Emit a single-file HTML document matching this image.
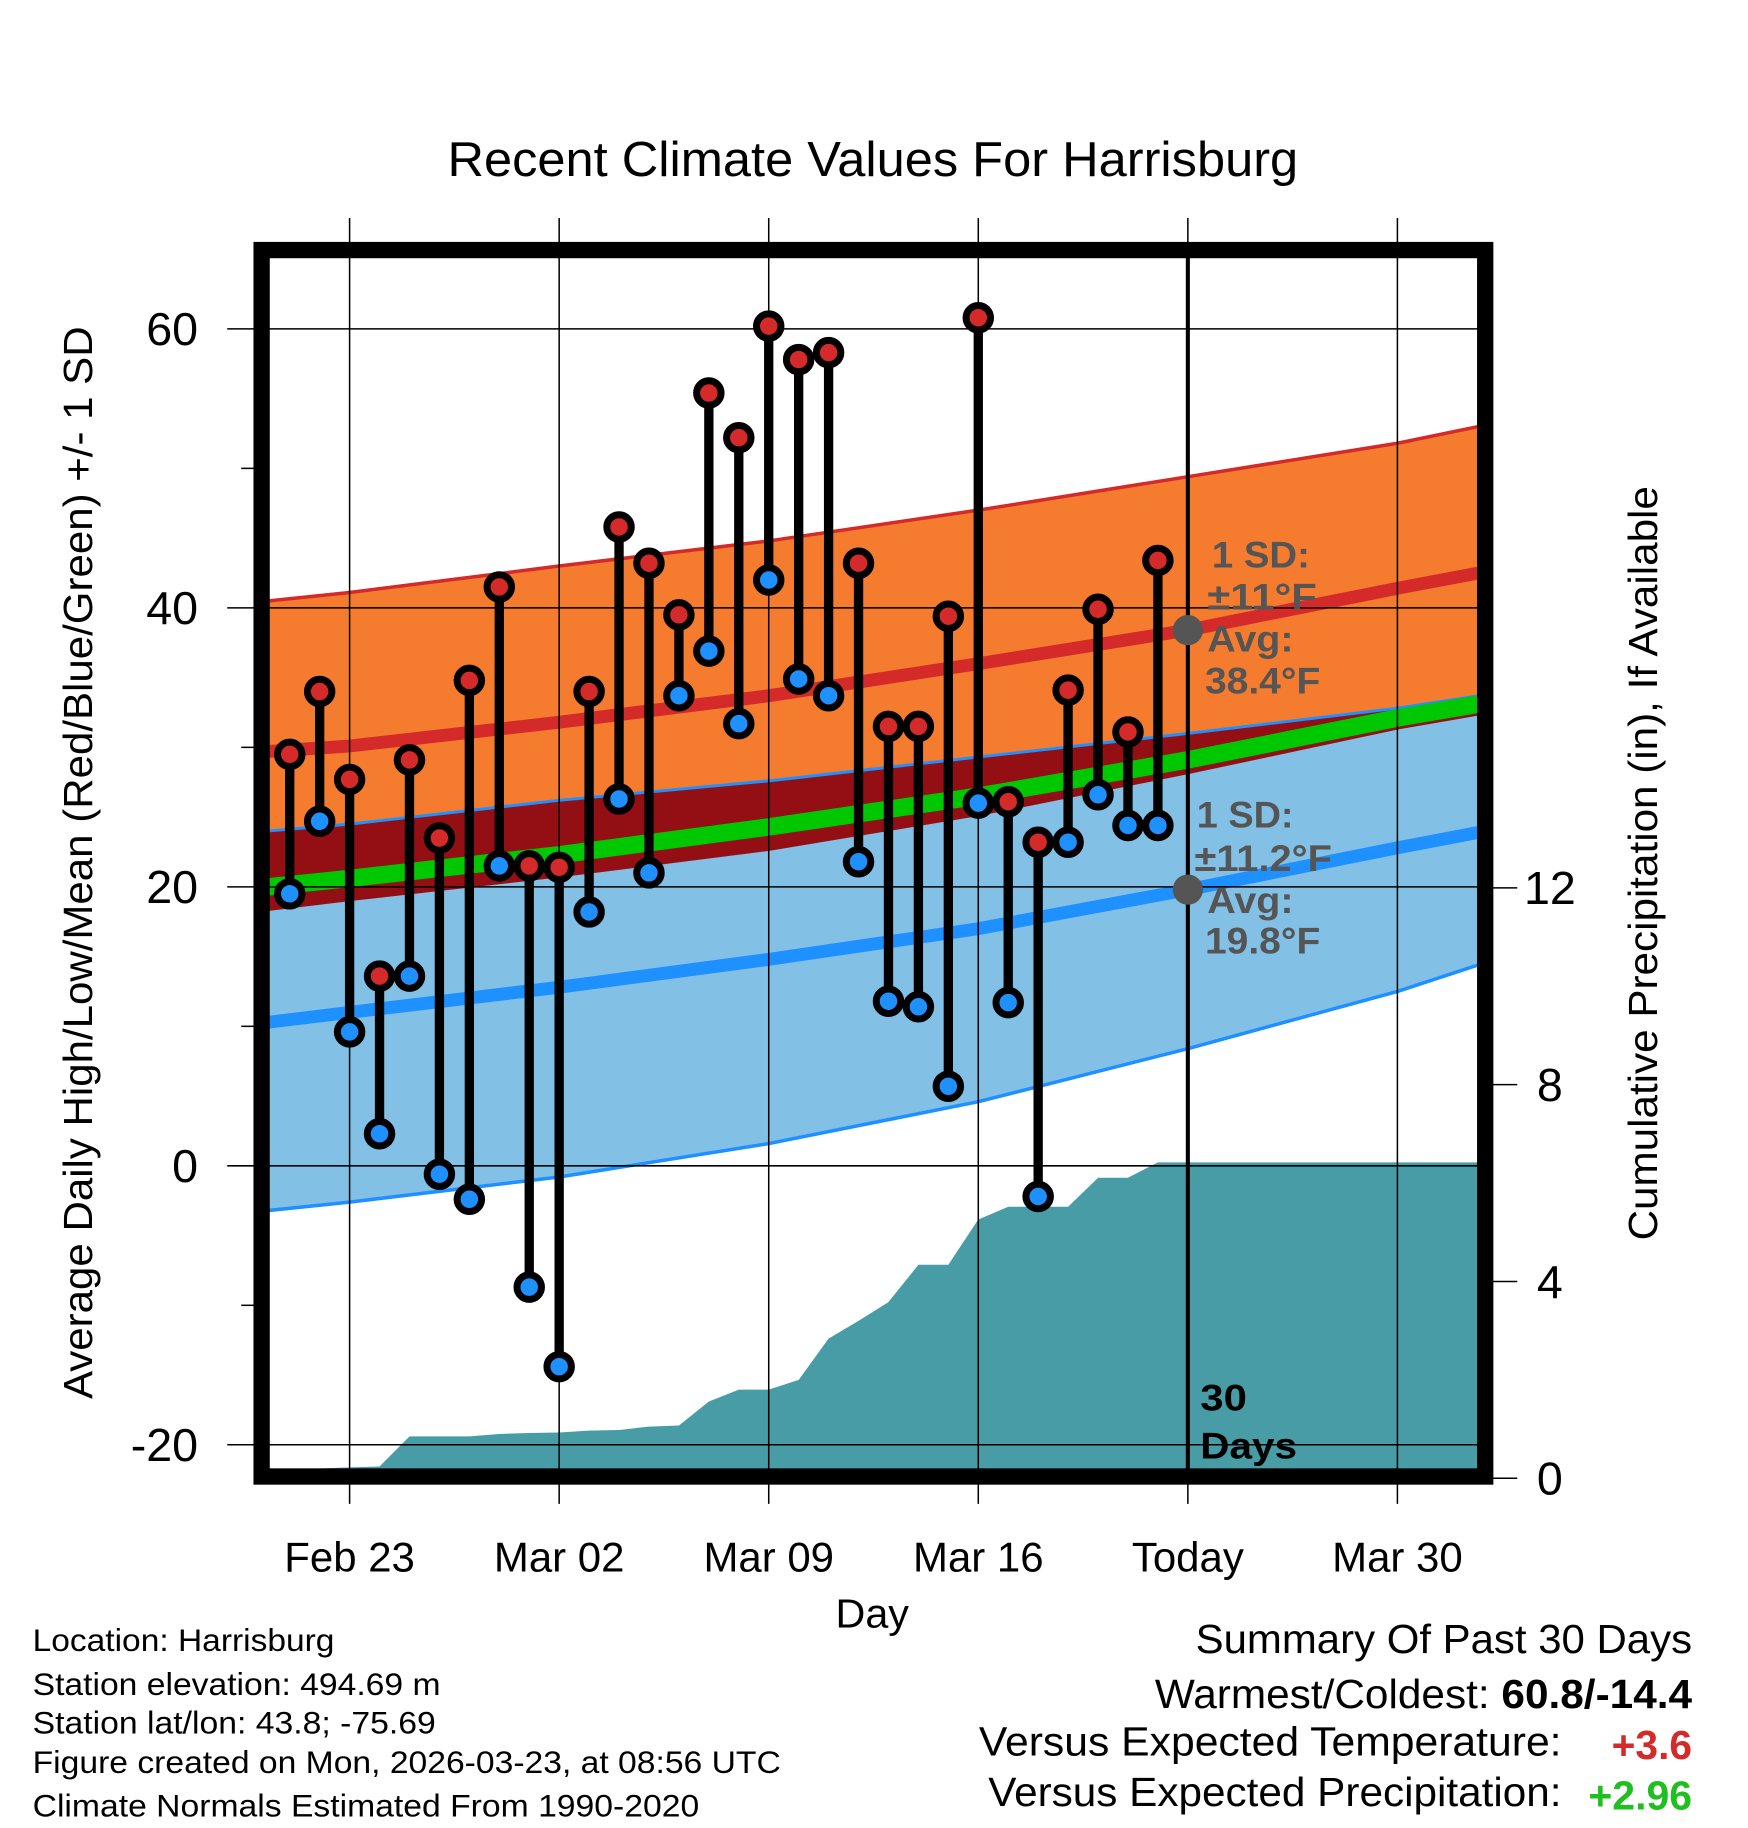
<!DOCTYPE html>
<html><head><meta charset="utf-8"><style>
html,body{margin:0;padding:0;background:#fff;}
svg{display:block;font-family:"Liberation Sans",sans-serif;}
</style></head><body>
<svg id="chart" width="1748" height="1828" viewBox="0 0 1500 1568" preserveAspectRatio="none" xmlns="http://www.w3.org/2000/svg">
<rect width="1500" height="1568" fill="#fff"/>
<text x="384" y="151" font-size="42" textLength="730" lengthAdjust="spacingAndGlyphs">Recent Climate Values For Harrisburg</text>
<defs><clipPath id="plotclip"><rect x="231" y="221" width="1037" height="1039"/></clipPath></defs>
<g id="bands" clip-path="url(#plotclip)"></g>
<g id="grid"></g>
<g id="marks" clip-path="url(#plotclip)"></g>
<g id="frame"></g>
<g id="axes"></g>
<g id="annot"></g>
<g font-size="27" lengthAdjust="spacingAndGlyphs">
<text x="28" y="1416" textLength="259" lengthAdjust="spacingAndGlyphs">Location: Harrisburg</text>
<text x="28" y="1454" textLength="350" lengthAdjust="spacingAndGlyphs">Station elevation: 494.69 m</text>
<text x="28" y="1487" textLength="346" lengthAdjust="spacingAndGlyphs">Station lat/lon: 43.8; -75.69</text>
<text x="28" y="1521" textLength="642" lengthAdjust="spacingAndGlyphs">Figure created on Mon, 2026-03-23, at 08:56 UTC</text>
<text x="28" y="1558" textLength="572" lengthAdjust="spacingAndGlyphs">Climate Normals Estimated From 1990-2020</text>
</g>
<g font-size="35">
<text x="1026" y="1418" textLength="426" lengthAdjust="spacingAndGlyphs">Summary Of Past 30 Days</text>
<text x="991" y="1465" textLength="461" lengthAdjust="spacingAndGlyphs">Warmest/Coldest: <tspan font-weight="bold">60.8/-14.4</tspan></text>
<text x="840" y="1506" textLength="500" lengthAdjust="spacingAndGlyphs">Versus Expected Temperature:</text>
<text x="1383" y="1509" textLength="69" lengthAdjust="spacingAndGlyphs" fill="#d42a2a" font-weight="bold">+3.6</text>
<text x="848" y="1549" textLength="492" lengthAdjust="spacingAndGlyphs">Versus Expected Precipitation:</text>
<text x="1363" y="1552" textLength="89" lengthAdjust="spacingAndGlyphs" fill="#1fbf1f" font-weight="bold">+2.96</text>
</g>
</svg>
<script>
const days = ["Feb21","Feb22","Feb23","Feb24","Feb25","Feb26","Feb27","Feb28","Mar01","Mar02","Mar03","Mar04","Mar05","Mar06","Mar07","Mar08","Mar09","Mar10","Mar11","Mar12","Mar13","Mar14","Mar15","Mar16","Mar17","Mar18","Mar19","Mar20","Mar21","Mar22"];
const highs = [29.5,34,27.7,13.6,29.1,23.5,34.8,41.5,21.5,21.4,34,45.8,43.2,39.5,55.4,52.2,60.2,57.8,58.3,43.2,31.5,31.5,39.4,60.8,26.1,23.2,34.1,39.9,31.1,43.4];
const lows = [19.5,24.7,9.6,2.3,13.6,-0.6,-2.4,21.5,-8.7,-14.4,18.2,26.3,21,33.7,36.9,31.7,42,34.9,33.7,21.8,11.8,11.4,5.7,26,11.7,-2.2,23.2,26.6,24.4,24.4];
const precip = [0,0.2,0.22,0.24,0.85,0.85,0.85,0.9,0.92,0.93,0.97,0.98,1.05,1.07,1.56,1.8,1.8,2.0,2.84,3.2,3.58,4.34,4.34,5.26,5.52,5.52,5.52,6.11,6.11,6.42];
// normals sampled at day offsets (0 = Feb 23)
const normDays = [-2.7,0,7,14,21,28,35,37.7];
const highTop = [40.5,41.1,43,44.8,47,49.4,51.8,53];
const highMean = [29.7,30.1,31.8,33.7,36,38.4,41.4,42.5];
const highBot = [18.4,19.1,20.8,22.7,25.2,28.2,31.4,32.4];
const lowTop = [24.0,24.5,26.2,27.6,29.3,31,32.8,33.7];
const lowMean = [10.3,11,12.8,14.8,17,19.8,22.8,23.9];
const lowBot = [-3.2,-2.6,-0.8,1.6,4.6,8.4,12.5,14.4];
const avgMean = [20,20.6,22.3,24.3,26.5,29.1,32.1,33.1];
const yTicks = [60,40,20,0,-20];
const yMinor = [50,30,10,-10];
const pTicks = [0,4,8,12];
const xTickLabels = ["Feb 23","Mar 02","Mar 09","Mar 16","Today","Mar 30"];
const xTickDays = [0,7,14,21,28,35];

const NS="http://www.w3.org/2000/svg";
const X = d => 300 + d*25.69;
const Y = v => 1000 - v*11.965;
const P = p => 1268 - p*42.2;
function mk(tag, attrs, parent){const e=document.createElementNS(NS,tag);for(const k in attrs)e.setAttribute(k,attrs[k]);parent.appendChild(e);return e;}
const bands=document.getElementById('bands'), grid=document.getElementById('grid'), marks=document.getElementById('marks'), frame=document.getElementById('frame'), axes=document.getElementById('axes'), annot=document.getElementById('annot');
const line = arr => normDays.map((d,i)=>X(d).toFixed(1)+','+Y(arr[i]).toFixed(1));
function band(top,bot,fill,name){
  const pts=line(top).concat(line(bot).reverse());
  const e=mk('polygon',{points:pts.join(' '),fill:fill},bands);
  
  
}
function pl(arr,stroke,w,name){
  const e=mk('polyline',{points:line(arr).join(' '),fill:'none',stroke:stroke,'stroke-width':w},bands);
  
  
}
band(highTop,highBot,'#f57b2e','high-sd-band');
band(lowTop,lowBot,'#82c0e6','low-sd-band');
band(lowTop,highBot.map((v,i)=>Math.min(v,lowTop[i])),'#930f14','overlap-band');
pl(highTop,'#d42a2a',3,'high-sd-top-line');
pl(highBot,'#930f14',3,'high-sd-bottom-line');
pl(lowTop,'#1e90ff',2.5,'low-sd-top-line');
pl(lowBot,'#1e90ff',3,'low-sd-bottom-line');
pl(avgMean,'#00c800',15,'mean-normal-line');
pl(highMean,'#d42a2a',11,'high-normal-line');
pl(lowMean,'#1e90ff',11,'low-normal-line');
{
  let pts=[X(-2.7)+','+1262, X(-2.7)+','+P(precip[0])];
  precip.forEach((p,i)=>pts.push(X(i-2).toFixed(1)+','+P(p).toFixed(1)));
  pts.push(X(37.7)+','+P(precip[precip.length-1]).toFixed(1));
  pts.push(X(37.7)+','+1262);
  const e=mk('polygon',{points:pts.join(' '),fill:'#479ca5'},bands);
  
  
}
yTicks.forEach(v=>{
  const e=mk('line',{x1:195,x2:1268,y1:Y(v),y2:Y(v),stroke:'#000','stroke-width':1.3},grid);
  
  
  const t=mk('text',{x:170,y:Y(v)+14,'font-size':40,'text-anchor':'end'},axes);
  t.textContent=v;
  
  
});
yMinor.forEach(v=>{
  const e=mk('line',{x1:207,x2:218,y1:Y(v),y2:Y(v),stroke:'#000','stroke-width':1.3},grid);
  
  
});
xTickDays.forEach((d,i)=>{
  const e=mk('line',{x1:X(d),x2:X(d),y1:187,y2:1290,stroke:'#000','stroke-width':1.3},grid);
  
  
  const t=mk('text',{x:X(d),y:1348,'font-size':36,'text-anchor':'middle'},axes);
  t.textContent=xTickLabels[i];
  
  
});
pTicks.forEach(p=>{
  const e=mk('line',{x1:1280,x2:1302,y1:P(p),y2:P(p),stroke:'#000','stroke-width':1.3},axes);
  
  
  const t=mk('text',{x:1330,y:P(p)+14,'font-size':40,'text-anchor':'middle'},axes);
  t.textContent=p;
  
  
});
{
  const e=mk('line',{x1:X(28),x2:X(28),y1:221,y2:1262,stroke:'#000','stroke-width':3.5},marks);
  
  
}
highs.forEach((h,i)=>{
  const x=X(i-2);
  const s=mk('line',{x1:x,x2:x,y1:Y(h),y2:Y(lows[i]),stroke:'#000','stroke-width':8},marks);
  
  
});
highs.forEach((h,i)=>{
  const x=X(i-2);
  const a=mk('circle',{cx:x,cy:Y(h),r:10.5,fill:'#d42a2a',stroke:'#000','stroke-width':6},marks);
  
  
  const b=mk('circle',{cx:x,cy:Y(lows[i]),r:10.5,fill:'#1e90ff',stroke:'#000','stroke-width':6},marks);
  
  
});
{
  const e=mk('rect',{x:224.5,y:214.5,width:1050,height:1052,fill:'none',stroke:'#000','stroke-width':14},frame);
  
  
}
function txt(s,x,y,size,attrs,name){
  const t=mk('text',Object.assign({x:x,y:y,'font-size':size},attrs||{}),annot);
  t.textContent=s;
  
  
  return t;
}
{
  const c1=mk('circle',{cx:X(28),cy:Y(highMean[5]),r:13,fill:'#555'},annot);
  
  
  const c2=mk('circle',{cx:X(28),cy:Y(lowMean[5]),r:13,fill:'#555'},annot);
  
  
}
const ga=w=>({'font-weight':'bold',fill:'#555',textLength:w,lengthAdjust:'spacingAndGlyphs'});
txt('1 SD:',1040,487,32,ga(84),'high-sd-label');
txt('±11°F',1036,523,32,ga(94),'high-sd-value');
txt('Avg:',1036,559,32,ga(74),'high-avg-label');
txt('38.4°F',1034,595,32,ga(99),'high-avg-value');
txt('1 SD:',1027,710,32,ga(83),'low-sd-label');
txt('±11.2°F',1025,747,32,ga(118),'low-sd-value');
txt('Avg:',1036,783,32,ga(74),'low-avg-label');
txt('19.8°F',1034,818,32,ga(99),'low-avg-value');
txt('30',1030,1210,32,{'font-weight':'bold',textLength:40,lengthAdjust:'spacingAndGlyphs'},'days-count');
txt('Days',1030,1251,32,{'font-weight':'bold',textLength:83,lengthAdjust:'spacingAndGlyphs'},'days-label');
txt('Day',717,1396,35,{textLength:63,lengthAdjust:'spacingAndGlyphs'},'x-axis-title');
txt('Average Daily High/Low/Mean (Red/Blue/Green) +/- 1 SD',-460,0,35,{textLength:920,lengthAdjust:'spacingAndGlyphs',transform:'translate(79,740) rotate(-90)'},'y-axis-title');
txt('Cumulative Precipitation (in), If Available',-323,0,35,{textLength:647,lengthAdjust:'spacingAndGlyphs',transform:'translate(1422,741) rotate(-90)'},'precip-axis-title');
</script>
</body></html>
